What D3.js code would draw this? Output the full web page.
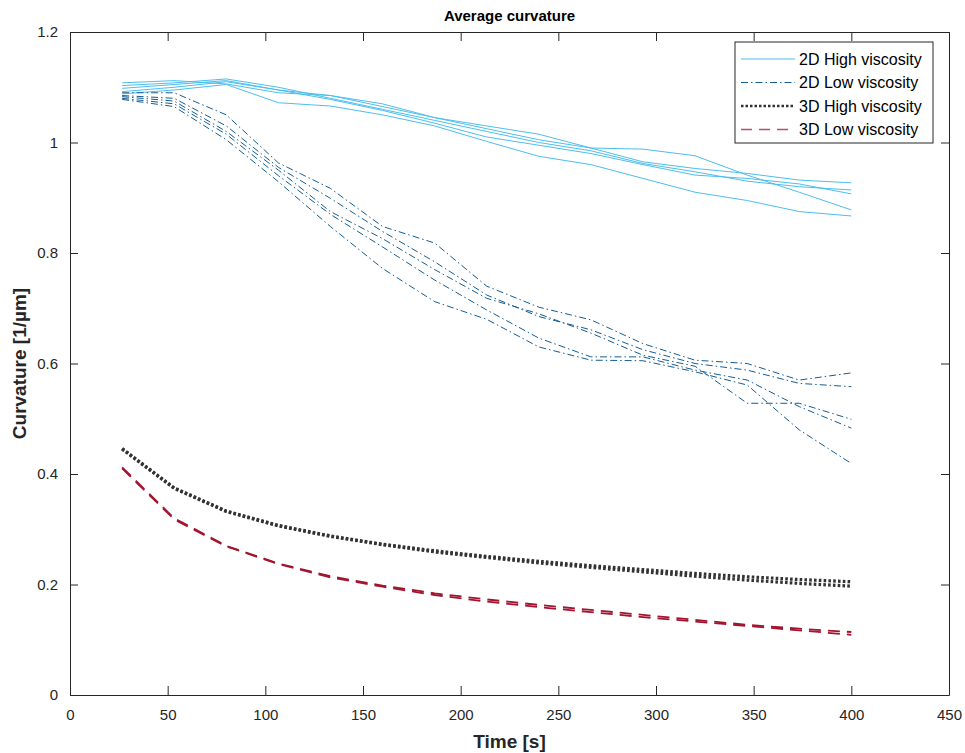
<!DOCTYPE html>
<html>
<head>
<meta charset="utf-8">
<script src="https://cdn.jsdelivr.net/npm/d3@7"></script>
<style>
    body { margin: 0; background: #fff; }
    svg { display: block; font-family: 'Liberation Sans', Arial, Helvetica, sans-serif; }
</style>
</head>
<body>
<svg id="chart" width="965" height="753"></svg>
<script>
// time points (s)
const times = [26.7, 53.3, 80, 106.7, 133.3, 160, 186.7, 213.3, 240, 266.7, 293.3, 320, 346.7, 373.3, 400];

// 2D high viscosity runs
const high2D = [
    [1.098, 1.105, 1.112, 1.095, 1.085, 1.070, 1.045, 1.025, 1.005, 0.990, 0.988, 0.976, 0.941, 0.910, 0.878],
    [1.088, 1.095, 1.105, 1.072, 1.066, 1.050, 1.030, 1.002, 0.975, 0.960, 0.935, 0.910, 0.895, 0.875, 0.867],
    [1.108, 1.112, 1.106, 1.090, 1.085, 1.065, 1.045, 1.030, 1.015, 0.990, 0.965, 0.953, 0.944, 0.932, 0.927],
    [1.103, 1.108, 1.115, 1.100, 1.080, 1.060, 1.040, 1.020, 1.000, 0.985, 0.962, 0.947, 0.930, 0.920, 0.914],
    [1.092, 1.100, 1.110, 1.095, 1.078, 1.058, 1.035, 1.010, 0.995, 0.980, 0.960, 0.941, 0.935, 0.925, 0.907]
];

// 2D low viscosity runs
const low2D = [
    [1.090, 1.090, 1.050, 0.963, 0.917, 0.848, 0.818, 0.740, 0.702, 0.679, 0.636, 0.606, 0.600, 0.570, 0.583],
    [1.085, 1.080, 1.030, 0.955, 0.899, 0.839, 0.784, 0.724, 0.685, 0.661, 0.625, 0.600, 0.588, 0.564, 0.558],
    [1.083, 1.075, 1.020, 0.950, 0.875, 0.826, 0.770, 0.718, 0.690, 0.655, 0.615, 0.595, 0.528, 0.528, 0.499],
    [1.080, 1.070, 1.015, 0.940, 0.870, 0.811, 0.751, 0.697, 0.646, 0.612, 0.612, 0.588, 0.570, 0.522, 0.483],
    [1.078, 1.065, 1.005, 0.929, 0.848, 0.772, 0.712, 0.680, 0.630, 0.606, 0.605, 0.585, 0.561, 0.480, 0.419]
];

// 3D high viscosity runs
const high3D = [
    [0.446, 0.375, 0.333, 0.307, 0.288, 0.273, 0.261, 0.251, 0.242, 0.234, 0.227, 0.220, 0.214, 0.209, 0.205],
    [0.445, 0.374, 0.332, 0.306, 0.287, 0.272, 0.259, 0.249, 0.239, 0.231, 0.223, 0.215, 0.208, 0.202, 0.197]
];

// 3D low viscosity runs
const low3D = [
    [0.412, 0.320, 0.270, 0.238, 0.215, 0.198, 0.184, 0.173, 0.163, 0.154, 0.145, 0.136, 0.127, 0.120, 0.114],
    [0.410, 0.318, 0.269, 0.237, 0.213, 0.196, 0.181, 0.169, 0.159, 0.150, 0.141, 0.133, 0.125, 0.117, 0.109]
];

const xTicks = [0, 50, 100, 150, 200, 250, 300, 350, 400, 450];
const yTicks = [0, 0.2, 0.4, 0.6, 0.8, 1, 1.2];

const legendLabels = ['2D High viscosity', '2D Low viscosity', '3D High viscosity', '3D Low viscosity'];

const styles = [
    {color: '#4dbeee', width: 1, dash: null},
    {color: '#155d93', width: 1, dash: '7,3,1.5,3'},
    {color: '#333333', width: 3.2, dash: '2.6,2.2'},
    {color: '#a2142f', width: 1.8, dash: '12,7'}
];

const svg = d3.select('#chart');
const margin = {top: 32, right: 16, bottom: 58, left: 70};
const width = 965 - margin.left - margin.right;
const height = 753 - margin.top - margin.bottom;

const x = d3.scaleLinear().domain([0, 450]).range([0, width]);
const y = d3.scaleLinear().domain([0, 1.2]).range([height, 0]);

const g = svg.append('g')
    .attr('transform', `translate(${margin.left}, ${margin.top})`);

const line = d3.line()
    .x((d, i) => x(times[i]))
    .y(d => y(d));

const groups = [high2D, low2D, high3D, low3D];
groups.forEach((runs, gi) => {
    const s = styles[gi];
    g.append('g')
        .selectAll('path')
        .data(runs)
        .enter().append('path')
        .attr('d', line)
        .attr('fill', 'none')
        .attr('stroke', s.color)
        .attr('stroke-width', s.width)
        .attr('stroke-dasharray', s.dash);
});

// axes, box style with ticks inside on all sides
const axisColor = '#262626';
const tickLen = 9;

const xAxis = g.append('g')
    .attr('transform', `translate(0, ${height})`)
    .call(d3.axisBottom(x).tickValues(xTicks).tickSizeInner(-tickLen).tickSizeOuter(0).tickPadding(14));
const xTop = g.append('g')
    .call(d3.axisTop(x).tickValues(xTicks).tickSizeInner(-tickLen).tickSizeOuter(0).tickFormat(''));
const yAxis = g.append('g')
    .call(d3.axisLeft(y).tickValues(yTicks).tickSizeInner(-8).tickSizeOuter(0).tickPadding(12).tickFormat(d3.format('')));
const yRight = g.append('g')
    .attr('transform', `translate(${width}, 0)`)
    .call(d3.axisRight(y).tickValues(yTicks).tickSizeInner(-8).tickSizeOuter(0).tickFormat(''));

[xAxis, xTop, yAxis, yRight].forEach(a => {
    a.select('.domain').attr('stroke', axisColor).attr('stroke-width', 1);
    a.selectAll('.tick line').attr('stroke', axisColor).attr('stroke-width', 1);
    a.selectAll('text')
        .attr('fill', axisColor)
        .style('font-size', '15px')
        .style('font-family', "'Liberation Sans', Arial, sans-serif");
});

// title and axis labels
svg.append('text')
    .attr('x', margin.left + width / 2)
    .attr('y', 21)
    .attr('text-anchor', 'middle')
    .attr('font-size', '15px')
    .attr('font-weight', 'bold')
    .attr('fill', '#000')
    .text('Average curvature');

svg.append('text')
    .attr('x', margin.left + width / 2)
    .attr('y', 748)
    .attr('text-anchor', 'middle')
    .attr('font-size', '19px')
    .attr('font-weight', 'bold')
    .attr('fill', '#262626')
    .text('Time [s]');

svg.append('text')
    .attr('transform', `translate(26, ${margin.top + height / 2}) rotate(-90)`)
    .attr('text-anchor', 'middle')
    .attr('font-size', '19px')
    .attr('font-weight', 'bold')
    .attr('fill', '#262626')
    .text('Curvature [1/µm]');

// legend
const legend = svg.append('g')
    .attr('transform', 'translate(735, 42)');

legend.append('rect')
    .attr('width', 198)
    .attr('height', 101)
    .attr('fill', '#fff')
    .attr('stroke', '#262626')
    .attr('stroke-width', 1);

const legendStyles = [
    {color: '#4dbeee', width: 1, dash: null},
    {color: '#155d93', width: 1, dash: '7,3,1.5,3'},
    {color: '#333333', width: 2.5, dash: '2.5,2'},
    {color: '#b8506a', width: 1.5, dash: '11,7'}
];

legendLabels.forEach((label, i) => {
    const row = legend.append('g')
        .attr('transform', `translate(0, ${17 + i * 23.5})`);
    row.append('line')
        .attr('x1', 6)
        .attr('x2', 60)
        .attr('stroke', legendStyles[i].color)
        .attr('stroke-width', legendStyles[i].width)
        .attr('stroke-dasharray', legendStyles[i].dash);
    row.append('text')
        .attr('x', 64)
        .attr('dy', '0.35em')
        .attr('font-size', '16px')
        .attr('fill', '#000')
        .text(label);
});
</script>
</body>
</html>
